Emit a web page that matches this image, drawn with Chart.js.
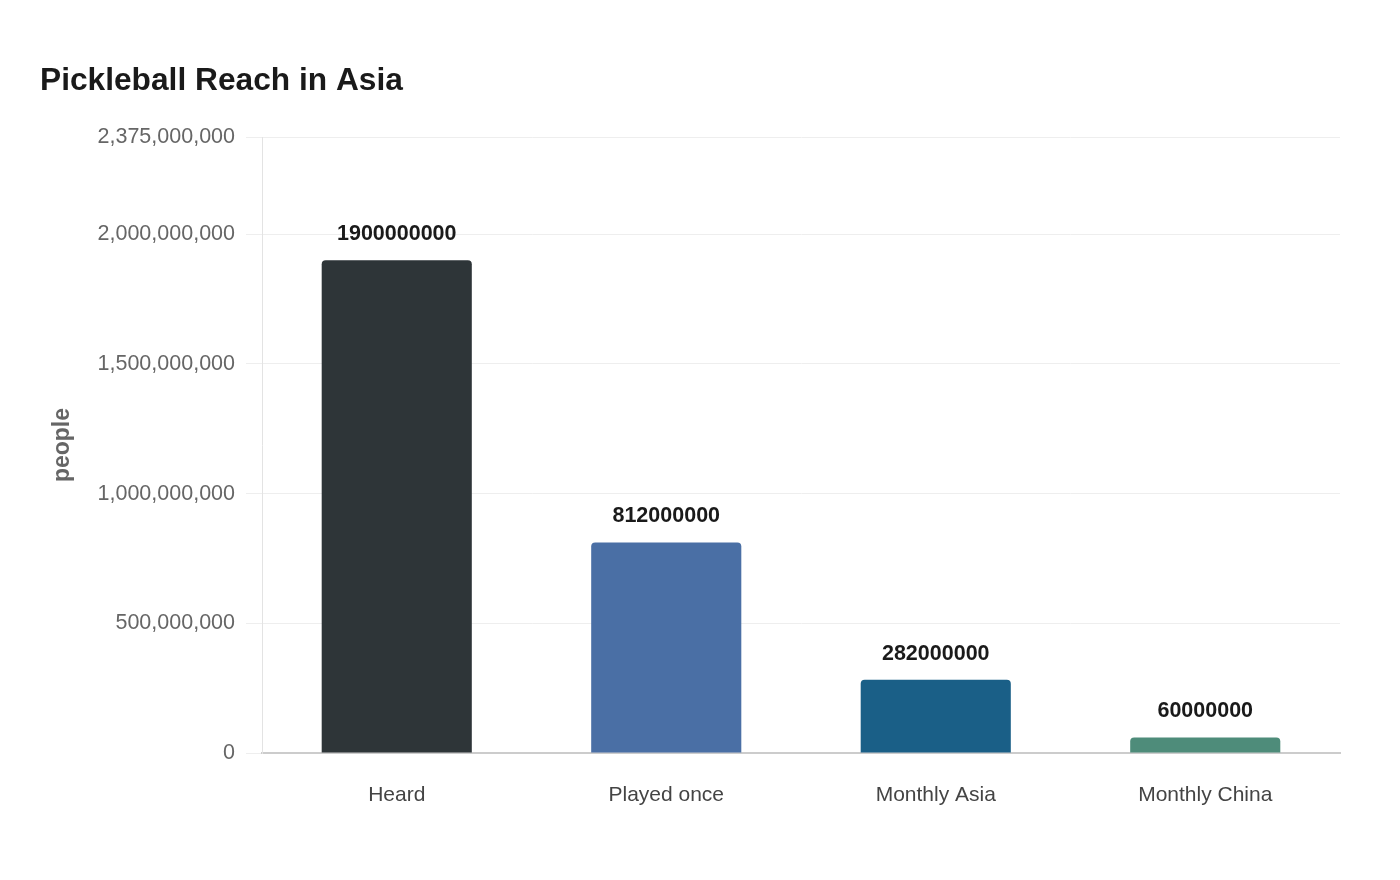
<!DOCTYPE html>
<html lang="en">
<head>
  <meta charset="UTF-8">
  <title>Pickleball Reach in Asia</title>
  <script src="https://cdn.jsdelivr.net/npm/chart.js@4.4.1/dist/chart.umd.min.js"></script>
  <style>
    body { margin: 0; padding: 0; background: #ffffff; overflow: hidden; }
    #wrap { width: 1400px; height: 880px; }
  </style>
</head>
<body>
  <div id="wrap"><canvas id="chart" width="1400" height="880"></canvas></div>

  <script>
    // data
    const categories = ["Heard", "Played once", "Monthly Asia", "Monthly China"];
    const people = [1900000000, 812000000, 282000000, 60000000];
    const barColors = ["#2e3538", "#4a6fa5", "#1a5f87", "#4e8c7a"];
    const yTicks = [0, 500000000, 1000000000, 1500000000, 2000000000, 2375000000];

    const FONT = "Arial, 'Liberation Sans', sans-serif";

    // value labels above the bars
    const valueLabels = {
      id: "valueLabels",
      afterDatasetsDraw(chart) {
        const ctx = chart.ctx;
        const meta = chart.getDatasetMeta(0);
        ctx.save();
        ctx.font = "bold 21.5px " + FONT;
        ctx.fillStyle = "#1a1a1a";
        ctx.textAlign = "center";
        ctx.textBaseline = "middle";
        meta.data.forEach((bar, i) => {
          ctx.fillText(String(people[i]), bar.x, bar.y - 26);
        });
        ctx.restore();
      }
    };

    Chart.defaults.font.family = FONT;

    new Chart(document.getElementById("chart").getContext("2d"), {
      type: "bar",
      data: {
        labels: categories,
        datasets: [{
          data: people,
          backgroundColor: barColors,
          borderRadius: 4,
          borderSkipped: "start",
          barPercentage: 0.557,
          categoryPercentage: 1.0
        }]
      },
      options: {
        responsive: false,
        animation: false,
        layout: { padding: { left: 40, right: 60, top: 62, bottom: 40 } },
        plugins: {
          legend: { display: false },
          tooltip: { enabled: false },
          title: {
            display: true,
            text: "Pickleball Reach in Asia",
            align: "start",
            color: "#1a1a1a",
            font: { size: 31.7, weight: "bold" },
            padding: { top: 0, bottom: 37 }
          }
        },
        scales: {
          x: {
            grid: { display: false },
            border: { display: true, color: "#cccccc", width: 2 },
            ticks: { color: "#444444", font: { size: 21 }, padding: 22 },
            afterFit(scale) { scale.height = 87; }
          },
          y: {
            min: 0,
            max: yTicks[yTicks.length - 1],
            afterBuildTicks(scale) { scale.ticks = yTicks.map(v => ({ value: v })); },
            ticks: { color: "#666666", font: { size: 21.5 }, padding: 11 },
            grid: { color: "#eeeeee", tickLength: 16 },
            border: { display: true, color: "#e3e3e3" },
            title: {
              display: true,
              text: "people",
              color: "#666666",
              font: { size: 23, weight: "bold" },
              padding: { top: 9, bottom: 0 }
            },
            afterFit(scale) { scale.width = 222; }
          }
        }
      },
      plugins: [valueLabels]
    });
  </script>
</body>
</html>
